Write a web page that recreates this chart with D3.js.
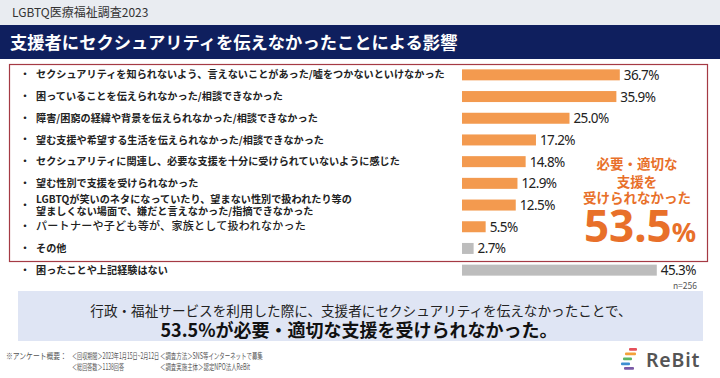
<!DOCTYPE html>
<html><head><meta charset="utf-8">
<script src="https://cdn.jsdelivr.net/npm/d3@7"></script>
<style>
html,body{margin:0;padding:0;background:#fff;}
svg{display:block;font-family:"Noto Sans CJK JP","Noto Sans",sans-serif;}
</style></head>
<body>
<svg id="c" width="720" height="378"></svg>
<script>
const categories = [
  ["セクシュアリティを知られないよう、言えないことがあった/嘘をつかないといけなかった"],
  ["困っていることを伝えられなかった/相談できなかった"],
  ["障害/困窮の経緯や背景を伝えられなかった/相談できなかった"],
  ["望む支援や希望する生活を伝えられなかった/相談できなかった"],
  ["セクシュアリティに関連し、必要な支援を十分に受けられていないように感じた"],
  ["望む性別で支援を受けられなかった"],
  ["LGBTQが笑いのネタになっていたり、望まない性別で扱われたり等の", "望ましくない場面で、嫌だと言えなかった/指摘できなかった"],
  ["パートナーや子ども等が、家族として扱われなかった"],
  ["その他"],
  ["困ったことや上記経験はない"]
];
const values = [36.7, 35.9, 25.0, 17.2, 14.8, 12.9, 12.5, 5.5, 2.7, 45.3];
const groups = ["a","a","a","a","a","a","a","a","b","b"];
const calloutLines = ["必要・適切な", "支援を", "受けられなかった"];
const calloutValue = "53.5";
const headerText = "LGBTQ医療福祉調査2023";
const titleText = "支援者にセクシュアリティを伝えなかったことによる影響";
const summaryLines = ["行政・福祉サービスを利用した際に、支援者にセクシュアリティを伝えなかったことで、", "53.5%が必要・適切な支援を受けられなかった。"];
const sampleText = "n=256";
const footerTexts = [
  "※アンケート概要：",
  "＜回収期間＞2023年1月15日~2月12日",
  "＜調査方法＞SNS等インターネットで募集",
  "＜総回答数＞1138回答",
  "＜調査実施主体＞認定NPO法人ReBit"
];

const svg = d3.select("#c");
const ids = d3.range(values.length);

// header
svg.append("rect").attr("x",0).attr("y",0).attr("width",720).attr("height",25).attr("fill","#e9ecf1");
svg.append("text").attr("x",12).attr("y",17).attr("font-size",12).attr("fill","#333").text(headerText);
svg.append("rect").attr("x",0).attr("y",25).attr("width",720).attr("height",34).attr("fill","#0f1f5e");
svg.append("text").attr("x",10).attr("y",48.5).attr("font-size",17.3).attr("font-weight",700).attr("fill","#fff").text(titleText);

// red box
svg.append("rect").attr("x",9.5).attr("y",64.5).attr("width",698).attr("height",197)
  .attr("fill","none").attr("stroke","#a53a44").attr("stroke-width",1.2);

const y = d3.scaleBand().domain(ids).range([64, 281]);
const x = d3.scaleLinear().domain([0, 100]).range([462, 892]);
const color = d3.scaleOrdinal().domain(["a","b"]).range(["#f39a4f","#bdbdbd"]);
const barH = 11;

// labels
const lab = svg.append("g");
ids.forEach(i => {
  const cy = y(i) + y.bandwidth()/2;
  lab.append("text").attr("x",20).attr("y",cy+3.5).attr("font-size",10).attr("font-weight",700).attr("fill","#222").text("・");
  const lines = categories[i];
  const special = i === 7;
  lines.forEach((l, k) => {
    const off = (k - (lines.length-1)/2) * 12;
    lab.append("text").attr("x",36).attr("y",cy+off+3.6)
      .attr("font-size", special ? 11 : 10.1)
      .attr("font-weight", special ? 500 : 700)
      .attr("letter-spacing", special ? 0.3 : 0.05)
      .attr("fill","#222").text(l);
  });
});

// bars
svg.append("g").selectAll("rect").data(ids).join("rect")
  .attr("x", x(0)).attr("y", i => y(i) + y.bandwidth()/2 - barH/2)
  .attr("width", i => x(values[i]) - x(0)).attr("height", barH)
  .attr("fill", i => color(groups[i]));

svg.append("g").selectAll("text").data(ids).join("text")
  .attr("x", i => x(values[i]) + 4).attr("y", i => y(i) + y.bandwidth()/2 + 5)
  .attr("font-size",13.5).attr("letter-spacing",-0.6).attr("fill","#222")
  .attr("font-family","'Noto Sans','Noto Sans CJK JP',sans-serif")
  .text(i => d3.format(".1f")(values[i]) + "%");

svg.append("text").attr("x",697).attr("y",289).attr("text-anchor","end")
  .attr("font-size",8.5).attr("fill","#555").text(sampleText);

// callout
const cg = svg.append("g").attr("fill","#e8702a").attr("font-weight",700).attr("text-anchor","middle");
[169, 187, 203].forEach((yy, k) => cg.append("text").attr("x",637).attr("y",yy).attr("font-size",13.5).text(calloutLines[k]));
const big = cg.append("text").attr("x",640).attr("y",242).attr("font-family","'Noto Sans',sans-serif");
big.append("tspan").attr("font-size",44).text(calloutValue);
big.append("tspan").attr("font-size",27).text("%");

// summary band
svg.append("rect").attr("x",18).attr("y",291).attr("width",685).attr("height",50).attr("fill","#dfe5f4");
svg.append("text").attr("x",361).attr("y",316).attr("text-anchor","middle").attr("font-size",13.6).attr("fill","#222").text(summaryLines[0]);
svg.append("text").attr("x",359).attr("y",337).attr("text-anchor","middle").attr("font-size",18).attr("font-weight",700).attr("fill","#111").text(summaryLines[1]);

// footer (condensed horizontally like the reference)
const fg = svg.append("g").attr("font-size",8.5).attr("fill","#555");
const fpos = [[6,359,0.8],[72,359,0.6],[160,359,0.64],[72,369.5,0.6],[160,369.5,0.64]];
fpos.forEach((p, k) => fg.append("g").attr("transform",`translate(${p[0]},${p[1]}) scale(${p[2]},1)`)
  .append("text").attr("x",0).attr("y",0).text(footerTexts[k]));

// logo
const lg = svg.append("g");
const stripes = [[629,348,8,"#e5505a"],[625,352.5,11,"#f3a13a"],[623,357.5,9,"#5bb563"],[621,362.5,9,"#3d8fd1"],[624,367,10,"#7b5aa6"]];
stripes.forEach(s => lg.append("rect").attr("x",s[0]).attr("y",s[1]).attr("width",s[2]).attr("height",2.8).attr("rx",1).attr("fill",s[3]));
lg.append("text").attr("x",646).attr("y",367).attr("font-size",19.5).attr("font-weight",600)
  .attr("font-family","'Noto Sans',sans-serif").attr("fill","#555").attr("letter-spacing",0.8).text("ReBit");
</script>
</body></html>
